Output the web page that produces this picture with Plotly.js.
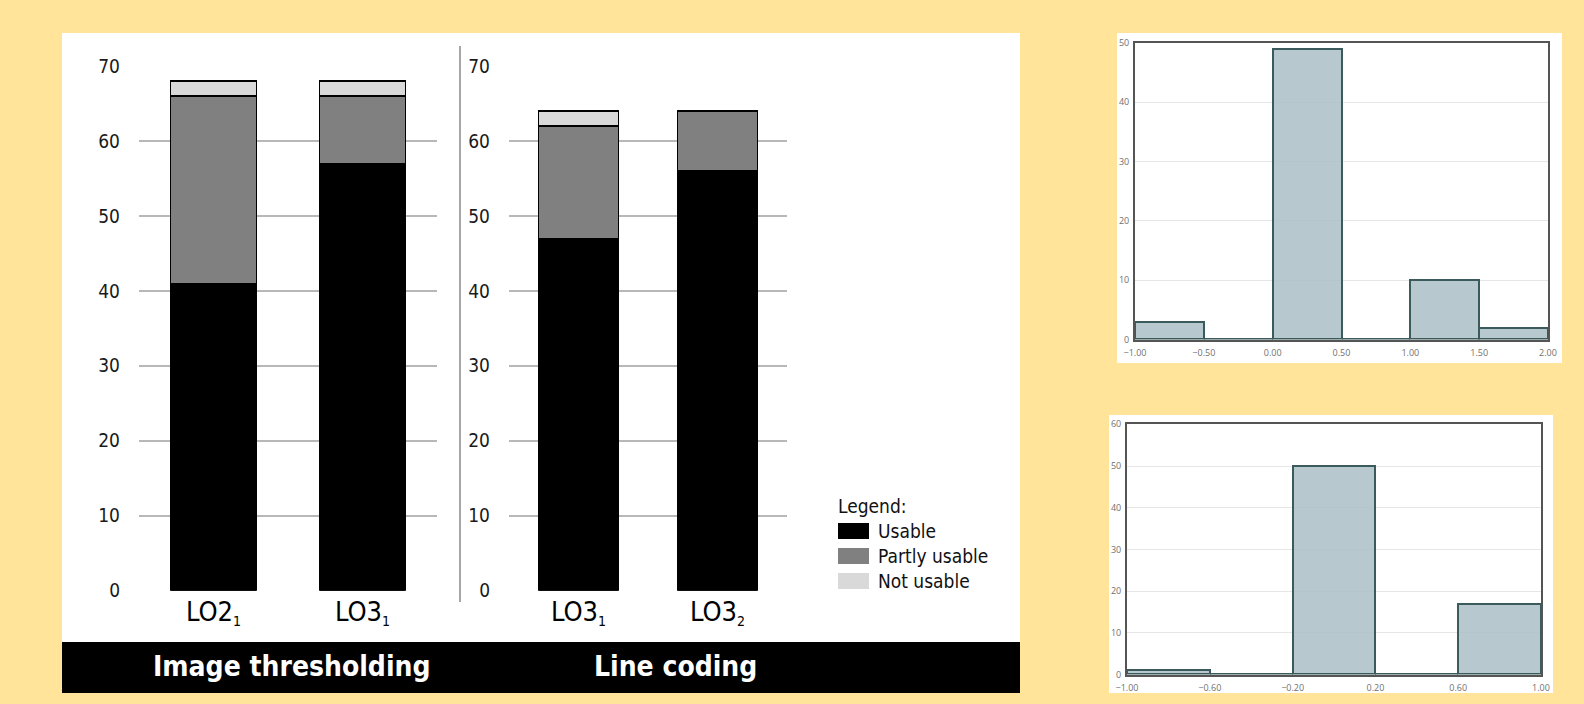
<!DOCTYPE html>
<html>
<head>
<meta charset="utf-8">
<script src="https://cdn.plot.ly/plotly-3.0.1.min.js"></script>
<style>html,body{margin:0;padding:0;background:#FFE49A;}#chart{width:1584px;height:704px;}</style>
</head>
<body>
<div id="chart"></div>
<script>
// ---- Data ----
var seriesNames = ['Usable', 'Partly usable', 'Not usable'];
var seriesColors = ['#000000', '#808080', '#d9d9d9'];

var groupTitles = ['Image thresholding', 'Line coding'];

var catsThresholding = ['LO2<sub><span style="font-size:14px">1</span></sub>', 'LO3<sub><span style="font-size:14px">1</span></sub>'];
var usableThresholding = [41, 57];
var partlyThresholding = [25, 9];
var notUsableThresholding = [2, 2];

var catsLineCoding = ['LO3<sub><span style="font-size:14px">1</span></sub>', 'LO3<sub><span style="font-size:14px">2</span></sub>'];
var usableLineCoding = [47, 56];
var partlyLineCoding = [15, 8];
var notUsableLineCoding = [2, 0];

var yTicksMain = [0, 10, 20, 30, 40, 50, 60, 70];

var hist1Edges = [-1.0, -0.5, 0.0, 0.5, 1.0, 1.5, 2.0];
var hist1Counts = [3, 0, 49, 0, 10, 2];

var hist2Edges = [-1.0, -0.6, -0.2, 0.2, 0.6, 1.0];
var hist2Counts = [1, 0, 50, 0, 17];

// ---- Helpers (pixel -> paper) ----
var W = 1584, H = 704;
function X(px) { return px / W; }
function Y(py) { return 1 - py / H; }

var condensed = 'DejaVu Sans Condensed, DejaVu Sans, sans-serif';

var traces = [];
var stackSets = [
  { cats: catsThresholding, vals: [usableThresholding, partlyThresholding, notUsableThresholding], xa: 'x', ya: 'y' },
  { cats: catsLineCoding, vals: [usableLineCoding, partlyLineCoding, notUsableLineCoding], xa: 'x2', ya: 'y2' }
];
stackSets.forEach(function (s) {
  for (var i = 0; i < seriesNames.length; i++) {
    traces.push({
      type: 'bar', name: seriesNames[i], x: s.cats, y: s.vals[i],
      xaxis: s.xa, yaxis: s.ya, width: 0.575,
      marker: { color: seriesColors[i], line: { color: '#000000', width: 1.6 } },
      showlegend: false, hoverinfo: 'skip'
    });
  }
});

function centers(edges) { var c = []; for (var i = 0; i < edges.length - 1; i++) c.push((edges[i] + edges[i + 1]) / 2); return c; }
function widths(edges) { var w = []; for (var i = 0; i < edges.length - 1; i++) w.push(edges[i + 1] - edges[i]); return w; }

var histFill = 'rgba(170,192,197,0.85)';
var histLine = '#3a5a5b';
traces.push({ type: 'bar', x: centers(hist1Edges), y: hist1Counts, width: widths(hist1Edges),
  xaxis: 'x3', yaxis: 'y3', marker: { color: histFill, line: { color: histLine, width: 2 } }, showlegend: false, hoverinfo: 'skip' });
traces.push({ type: 'bar', x: centers(hist2Edges), y: hist2Counts, width: widths(hist2Edges),
  xaxis: 'x4', yaxis: 'y4', marker: { color: histFill, line: { color: histLine, width: 2 } }, showlegend: false, hoverinfo: 'skip' });

var mainY = {
  range: [0, 70], tickvals: yTicksMain, showgrid: true, gridcolor: '#b8b8b8', gridwidth: 1.6,
  zeroline: false, showline: false, ticks: '', ticklabelstandoff: 18,
  tickfont: { family: condensed, size: 19, color: '#1a1a1a' }, fixedrange: true
};
var mainX = {
  type: 'category', showgrid: false, zeroline: false, showline: false, ticks: '',
  tickfont: { family: condensed, size: 27, color: '#000000' }, ticklabelstandoff: 2
};

function histX(edges, dom) {
  return { domain: dom, range: [edges[0], edges[edges.length - 1]], tickvals: edges, tickformat: '.2f',
    showgrid: false, zeroline: false, showline: true, mirror: true, linecolor: '#555555', linewidth: 2,
    ticks: '', tickfont: { family: 'Open Sans, sans-serif', size: 9, color: '#707070' }, ticklabelstandoff: 4 };
}
function histY(maxv, dom) {
  var tv = []; for (var v = 0; v <= maxv; v += 10) tv.push(v);
  return { domain: dom, range: [0, maxv], tickvals: tv, showgrid: true, gridcolor: '#e6e6e6', gridwidth: 1,
    zeroline: false, showline: true, mirror: true, linecolor: '#555555', linewidth: 2,
    ticks: '', tickfont: { family: 'Open Sans, sans-serif', size: 9, color: '#707070' }, ticklabelstandoff: 2 };
}

var mainYDomain = [Y(590.7), Y(66)];

var shapes = [
  { type: 'rect', xref: 'paper', yref: 'paper', x0: X(62), x1: X(1020), y0: Y(693), y1: Y(33), fillcolor: '#ffffff', line: { width: 0 }, layer: 'below' },
  { type: 'rect', xref: 'paper', yref: 'paper', x0: X(1117), x1: X(1562), y0: Y(363), y1: Y(33), fillcolor: '#ffffff', line: { width: 0 }, layer: 'below' },
  { type: 'rect', xref: 'paper', yref: 'paper', x0: X(1109), x1: X(1553), y0: Y(693), y1: Y(415), fillcolor: '#ffffff', line: { width: 0 }, layer: 'below' },
  { type: 'rect', xref: 'paper', yref: 'paper', x0: X(62), x1: X(1020), y0: Y(693), y1: Y(642), fillcolor: '#000000', line: { width: 0 }, layer: 'below' },
  { type: 'line', xref: 'paper', yref: 'paper', x0: X(460), x1: X(460), y0: Y(602), y1: Y(46), line: { color: '#a6a6a6', width: 2 } }
];

var annotations = [
  { xref: 'paper', yref: 'paper', x: X(292), y: Y(666), text: '<b>' + groupTitles[0] + '</b>', showarrow: false,
    xanchor: 'center', yanchor: 'middle', font: { family: condensed, size: 28, color: '#ffffff' } },
  { xref: 'paper', yref: 'paper', x: X(675), y: Y(666), text: '<b>' + groupTitles[1] + '</b>', showarrow: false,
    xanchor: 'center', yanchor: 'middle', font: { family: condensed, size: 28, color: '#ffffff' } },
  { xref: 'paper', yref: 'paper', x: X(836), y: Y(506), text: 'Legend:', showarrow: false,
    xanchor: 'left', yanchor: 'middle', font: { family: condensed, size: 19, color: '#111111' } }
];

var legendRowY = [531, 556, 581];
for (var i = 0; i < seriesNames.length; i++) {
  shapes.push({ type: 'rect', xref: 'paper', yref: 'paper', x0: X(838), x1: X(869), y0: Y(legendRowY[i] + 8), y1: Y(legendRowY[i] - 8),
    fillcolor: seriesColors[i], line: { width: 0 } });
  annotations.push({ xref: 'paper', yref: 'paper', x: X(876), y: Y(legendRowY[i]), text: seriesNames[i], showarrow: false,
    xanchor: 'left', yanchor: 'middle', font: { family: condensed, size: 19, color: '#111111' } });
}

var layout = {
  width: W, height: H, autosize: false,
  margin: { l: 0, r: 0, t: 0, b: 0, pad: 0 },
  paper_bgcolor: '#FFE49A', plot_bgcolor: 'rgba(0,0,0,0)',
  barmode: 'stack', bargap: 0, showlegend: false,
  xaxis: Object.assign({}, mainX, { domain: [X(139), X(437)], anchor: 'y' }),
  yaxis: Object.assign({}, mainY, { domain: mainYDomain, anchor: 'x' }),
  xaxis2: Object.assign({}, mainX, { domain: [X(509), X(787)], anchor: 'y2' }),
  yaxis2: Object.assign({}, mainY, { domain: mainYDomain, anchor: 'x2' }),
  xaxis3: Object.assign(histX(hist1Edges, [X(1135), X(1548)]), { anchor: 'y3' }),
  yaxis3: Object.assign(histY(50, [Y(339.5), Y(42.7)]), { anchor: 'x3' }),
  xaxis4: Object.assign(histX(hist2Edges, [X(1127), X(1541)]), { anchor: 'y4' }),
  yaxis4: Object.assign(histY(60, [Y(674.5), Y(424.3)]), { anchor: 'x4' }),
  shapes: shapes, annotations: annotations
};

Plotly.newPlot('chart', traces, layout, { displayModeBar: false, staticPlot: true });
</script>
</body>
</html>
